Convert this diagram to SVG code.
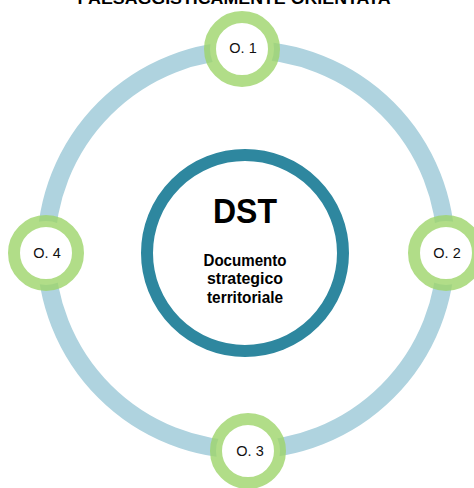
<svg xmlns="http://www.w3.org/2000/svg" width="474" height="488" viewBox="0 0 474 488">
<style>
.o{fill:#fff;stroke:#9ED46A;stroke-width:12;stroke-opacity:0.8}
.ol{font-family:"Liberation Sans",Arial,sans-serif;font-size:14.5px;fill:#111;text-anchor:middle}
.b{font-family:"Liberation Sans",Arial,sans-serif;font-weight:bold;fill:#000;text-anchor:middle}
</style>
<rect width="474" height="488" fill="#fff"/>
<text class="b" x="234" y="4" font-size="17" textLength="313" lengthAdjust="spacingAndGlyphs">PAESAGGISTICAMENTE ORIENTATA</text>
<g id="connectors">
<circle cx="246" cy="250" r="200" fill="none" stroke="#AFD3DF" stroke-width="18"/>
</g>
<g id="dst">
<circle cx="245" cy="253" r="98" fill="#fff" stroke="#2E879F" stroke-width="12"/>
<text class="b" x="245" y="223" font-size="35" textLength="64" lengthAdjust="spacingAndGlyphs">DST</text>
<text class="b" x="245" y="266" font-size="16" textLength="83" lengthAdjust="spacingAndGlyphs">Documento</text>
<text class="b" x="245" y="284" font-size="16" textLength="76" lengthAdjust="spacingAndGlyphs">strategico</text>
<text class="b" x="245" y="303" font-size="16" textLength="76" lengthAdjust="spacingAndGlyphs">territoriale</text>
</g>
<g id="o1"><circle class="o" cx="242" cy="49" r="32"/><text class="ol" x="243" y="53">O. 1</text></g>
<g id="o2"><circle class="o" cx="446" cy="253" r="32"/><text class="ol" x="447" y="258">O. 2</text></g>
<g id="o3"><circle class="o" cx="248" cy="451" r="32"/><text class="ol" x="250" y="456">O. 3</text></g>
<g id="o4"><circle class="o" cx="46" cy="253" r="32"/><text class="ol" x="47" y="258">O. 4</text></g>
</svg>
